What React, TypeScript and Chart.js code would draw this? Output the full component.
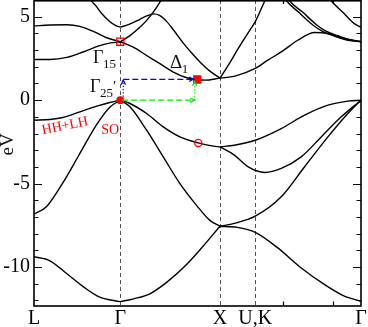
import React, { useEffect, useRef } from "react";
import { Chart, registerables } from "chart.js";
Chart.register(...registerables);

// High-symmetry points (k in units of 2π/a) and labels
const kPoints = [0, 0.866, 1.866, 2.22, 3.281];
const kLabels = ["L", "Γ", "X", "U,K", "Γ"];
const kMinorTicks = [2.5, 3.0];
const eMajorTicks = [-10, -5, 0, 5];
const eMinorTicks = [-12, -11, -10, -9, -8, -7, -6, -5, -4, -3, -2, -1, 0, 1, 2, 3, 4, 5];
const eMin = -12.33;
const eMax = 6;

// L -> Γ
const bandLG_a = [[0, -9.38], [0.16, -9.62], [0.33, -10.4], [0.5, -11.2], [0.66, -11.8], [0.866, -12.07]];
const bandLG_b = [[0, -6.83], [0.13, -6.35], [0.3, -4.85], [0.45, -3.3], [0.63, -1.45], [0.76, -0.42], [0.866, 0]];
const bandLG_c = [[0, -1.2], [0.16, -1.16], [0.29, -1.04], [0.46, -0.7], [0.63, -0.36], [0.76, -0.14], [0.866, 0]];
const bandLG_d = [[0, 2.44], [0.16, 2.44], [0.33, 2.56], [0.5, 2.9], [0.66, 3.27], [0.77, 3.43], [0.866, 3.5]];
const bandLG_e = [[0, 4.45], [0.16, 4.5], [0.33, 4.52], [0.46, 4.42], [0.6, 4.1], [0.73, 3.74], [0.866, 3.5]];
const bandLG_f = [[0.5, 6.7], [0.57, 6.0], [0.629, 5.59], [0.679, 5.19], [0.762, 4.7], [0.82, 4.47], [0.866, 4.37]];

// Γ -> X
const bandGX_a = [[0.866, -12.07], [1.0, -11.9], [1.163, -11.6], [1.334, -10.9], [1.505, -10.0], [1.672, -8.92], [1.866, -7.55]];
const bandGX_b = [[0.866, 0], [0.963, -0.4], [1.13, -1.8], [1.297, -3.4], [1.464, -5.0], [1.631, -6.3], [1.765, -7.2], [1.866, -7.55]];
const bandGX_c = [[0.866, 0], [0.963, -0.2], [1.13, -0.8], [1.297, -1.6], [1.464, -2.2], [1.648, -2.56], [1.799, -2.75], [1.866, -2.8]];
const bandGX_d = [[0.866, 3.5], [0.992, 3.19], [1.126, 2.69], [1.259, 2.2], [1.393, 1.7], [1.526, 1.36], [1.633, 1.24], [1.716, 1.2], [1.866, 1.32]];
const bandGX_e = [[0.866, 4.37], [0.959, 4.55], [1.059, 4.83], [1.126, 5.03], [1.2, 5.17], [1.26, 5.08], [1.33, 4.72], [1.4, 4.2], [1.5, 3.4], [1.6, 2.7], [1.665, 2.29], [1.765, 1.74], [1.866, 1.32]];
const bandGX_f = [[0.866, 3.5], [0.959, 3.85], [1.059, 4.35], [1.126, 4.75], [1.182, 5.15], [1.233, 5.59], [1.276, 6.0], [1.32, 6.4]];

// X -> U,K -> Γ
const bandXG_a = [[1.866, -7.55], [2.04, -7.62], [2.22, -7.92], [2.44, -8.82], [2.675, -10.02], [2.909, -11.02], [3.109, -11.72], [3.281, -12.05]];
const bandXG_b = [[1.866, -7.55], [2.01, -7.38], [2.22, -6.95], [2.481, -5.79], [2.715, -3.99], [2.949, -2.2], [3.149, -0.8], [3.281, 0]];
const bandXG_c = [[1.866, -2.8], [2.01, -3.29], [2.149, -4.0], [2.317, -4.33], [2.481, -4.09], [2.681, -3.4], [2.882, -2.2], [3.083, -1.0], [3.281, 0]];
const bandXG_d = [[1.866, -2.8], [2.01, -2.7], [2.22, -2.4], [2.481, -1.7], [2.715, -0.9], [2.949, -0.3], [3.149, -0.06], [3.281, 0]];
const bandXG_e = [[1.866, 1.32], [2.016, 1.44], [2.22, 1.9], [2.347, 2.4], [2.481, 2.89], [2.647, 3.59], [2.815, 4.05], [2.948, 3.99], [3.083, 3.75], [3.281, 3.5]];
const bandXG_f = [[1.866, 1.32], [1.95, 2.1], [2.05, 3.1], [2.15, 4.05], [2.22, 4.7], [2.32, 6.0], [2.38, 6.7]];
const bandXG_g = [[2.5, 6.3], [2.528, 6.0], [2.668, 5.2], [2.798, 4.5], [2.899, 4.1], [3.019, 3.83], [3.152, 3.59], [3.281, 3.5]];
const bandXG_h = [[2.53, 6.3], [2.558, 6.0], [2.698, 5.26], [2.828, 4.55], [2.929, 4.13], [3.049, 3.86], [3.17, 3.62], [3.281, 3.5]];
const bandXG_i = [[2.93, 6.4], [2.976, 6.0], [3.109, 5.2], [3.21, 4.6], [3.281, 4.37]];

const bands = [
  bandLG_a, bandLG_b, bandLG_c, bandLG_d, bandLG_e, bandLG_f,
  bandGX_a, bandGX_b, bandGX_c, bandGX_d, bandGX_e, bandGX_f,
  bandXG_a, bandXG_b, bandXG_c, bandXG_d, bandXG_e, bandXG_f, bandXG_g, bandXG_h, bandXG_i,
];

// Marked states
const gamma15Point = [0.866, 3.5];
const vbmPoint = [0.866, 0];
const cbmPoint = [1.638, 1.24];
const valencePoint = [1.648, -2.56];

// Transition arrows (from, to)
const greenHorizontal = [[0.885, 0], [1.612, 0]];
const greenVertical = [[1.612, 0], [1.612, 1.12]];
const blueVertical = [[0.896, 0.21], [0.896, 1.2]];
const blueHorizontal = [[0.896, 1.25], [1.6, 1.25]];

// Text annotation anchors (data coordinates)
const labelGamma15 = [0.592, 2.2];
const labelGamma25 = [0.562, 0.5];
const labelDelta1 = [1.364, 1.93];
const labelHHLH = [0.311, -1.55];
const labelSO = [0.765, -1.78];
const labelEV = -2.65;

const SERIF = '"Liberation Serif", "Times New Roman", serif';

function px(chart: any, p: number[]) {
  return [chart.scales.x.getPixelForValue(p[0]), chart.scales.y.getPixelForValue(p[1])];
}

function drawArrow(ctx: CanvasRenderingContext2D, a: number[], b: number[], color: string, dash: number[]) {
  ctx.save();
  ctx.strokeStyle = color;
  ctx.lineWidth = 1.2;
  ctx.setLineDash(dash);
  ctx.beginPath();
  ctx.moveTo(a[0], a[1]);
  ctx.lineTo(b[0], b[1]);
  ctx.stroke();
  ctx.setLineDash([]);
  const ang = Math.atan2(b[1] - a[1], b[0] - a[0]);
  const L = 5;
  ctx.beginPath();
  ctx.moveTo(b[0] - L * Math.cos(ang - 0.45), b[1] - L * Math.sin(ang - 0.45));
  ctx.lineTo(b[0], b[1]);
  ctx.lineTo(b[0] - L * Math.cos(ang + 0.45), b[1] - L * Math.sin(ang + 0.45));
  ctx.stroke();
  ctx.restore();
}

function drawSubLabel(ctx: CanvasRenderingContext2D, p: number[], main: string, sub: string, mainSize: number, subSize: number, prime = false) {
  ctx.save();
  ctx.fillStyle = "#111";
  ctx.textBaseline = "alphabetic";
  ctx.textAlign = "left";
  ctx.font = `${mainSize}px ${SERIF}`;
  ctx.fillText(main, p[0], p[1]);
  const w = ctx.measureText(main).width;
  ctx.font = `${subSize}px ${SERIF}`;
  ctx.fillText(sub, p[0] + w - 0.5, p[1] + 5);
  if (prime) {
    const ws = ctx.measureText(sub).width;
    ctx.font = `${subSize + 2}px ${SERIF}`;
    ctx.fillText("′", p[0] + w + ws - 0.5, p[1] - 1);
  }
  ctx.restore();
}

const decorPlugin = {
  id: "decor",
  beforeDatasetsDraw(chart: any) {
    const { ctx, chartArea: a, scales } = chart;
    ctx.save();
    ctx.strokeStyle = "#555";
    ctx.lineWidth = 1;
    ctx.setLineDash([4, 3]);
    kPoints.slice(1, -1).forEach((k) => {
      const x = Math.round(scales.x.getPixelForValue(k)) + 0.5;
      ctx.beginPath();
      ctx.moveTo(x, a.top);
      ctx.lineTo(x, a.bottom);
      ctx.stroke();
    });
    ctx.restore();
  },
  afterDatasetsDraw(chart: any) {
    const { ctx, chartArea: a, scales } = chart;
    // arrows
    drawArrow(ctx, px(chart, greenHorizontal[0]), px(chart, greenHorizontal[1]), "#00ee00", [6, 3]);
    drawArrow(ctx, px(chart, greenVertical[0]), px(chart, greenVertical[1]), "#00ee00", [1.2, 2]);
    drawArrow(ctx, px(chart, blueVertical[0]), px(chart, blueVertical[1]), "#0000ff", [1.2, 2]);
    drawArrow(ctx, px(chart, blueHorizontal[0]), px(chart, blueHorizontal[1]), "#0000ff", [6, 3]);

    // frame
    ctx.save();
    ctx.strokeStyle = "#000";
    ctx.lineWidth = 1.6;
    ctx.strokeRect(a.left, a.top + 0.8, a.right - a.left, a.bottom - a.top - 0.8);
    // inward ticks on y
    ctx.lineWidth = 1.2;
    eMinorTicks.forEach((e) => {
      const y = Math.round(scales.y.getPixelForValue(e)) + 0.5;
      const len = eMajorTicks.includes(e) ? 8 : 4.5;
      ctx.beginPath();
      ctx.moveTo(a.left, y);
      ctx.lineTo(a.left + len, y);
      ctx.moveTo(a.right, y);
      ctx.lineTo(a.right - len, y);
      ctx.stroke();
    });
    kMinorTicks.forEach((k) => {
      const x = Math.round(scales.x.getPixelForValue(k)) + 0.5;
      ctx.beginPath();
      ctx.moveTo(x, a.bottom);
      ctx.lineTo(x, a.bottom - 4.5);
      ctx.moveTo(x, a.top);
      ctx.lineTo(x, a.top + 4);
      ctx.stroke();
    });
    ctx.restore();

    // text labels
    drawSubLabel(ctx, px(chart, labelGamma15), "Γ", "15", 18, 13);
    drawSubLabel(ctx, px(chart, labelGamma25), "Γ", "25", 18, 13, true);
    drawSubLabel(ctx, px(chart, labelDelta1), "Δ", "1", 19, 13);

    ctx.save();
    ctx.fillStyle = "#ff0000";
    ctx.font = `14px ${SERIF}`;
    ctx.textAlign = "center";
    ctx.textBaseline = "middle";
    const hh = px(chart, labelHHLH);
    ctx.translate(hh[0], hh[1]);
    ctx.rotate(-0.2);
    ctx.fillText("HH+LH", 0, 0);
    ctx.restore();

    ctx.save();
    ctx.fillStyle = "#ff0000";
    ctx.font = `14px ${SERIF}`;
    ctx.textAlign = "center";
    ctx.textBaseline = "middle";
    const so = px(chart, labelSO);
    ctx.fillText("SO", so[0], so[1]);
    ctx.restore();

    ctx.save();
    ctx.fillStyle = "#111";
    ctx.font = `19px ${SERIF}`;
    ctx.textAlign = "center";
    ctx.textBaseline = "middle";
    ctx.translate(a.left - 26, scales.y.getPixelForValue(labelEV));
    ctx.rotate(-Math.PI / 2);
    ctx.fillText("eV", 0, 0);
    ctx.restore();
  },
};

export default function App() {
  const canvasRef = useRef<HTMLCanvasElement | null>(null);

  useEffect(() => {
    document.body.style.margin = "0";
    const canvas = canvasRef.current;
    if (!canvas) return;

    const markerDs = (p: number[], style: string, radius: number, filled: boolean) => ({
      data: [{ x: p[0], y: p[1] }],
      showLine: false,
      pointStyle: style,
      pointRadius: radius,
      pointBorderColor: "#ff0000",
      pointBackgroundColor: filled ? "#ff0000" : "rgba(0,0,0,0)",
      pointBorderWidth: 1.3,
    });

    const datasets: any[] = [
      markerDs(gamma15Point, "rect", 5, false),
      markerDs(vbmPoint, "circle", 3.3, true),
      markerDs(cbmPoint, "rect", 5, true),
      markerDs(valencePoint, "circle", 3.6, false),
      ...bands.map((b) => ({
        data: b.map(([k, e]) => ({ x: k, y: e })),
        borderColor: "#000",
        borderWidth: 1.4,
        pointRadius: 0,
        tension: 0.4,
        cubicInterpolationMode: "monotone",
        fill: false,
      })),
    ];

    const chart = new Chart(canvas, {
      type: "line",
      data: { datasets },
      options: {
        animation: false,
        responsive: false,
        events: [],
        layout: { autoPadding: false, padding: { left: 0, right: 7, top: 0, bottom: 0 } },
        plugins: { legend: { display: false }, tooltip: { enabled: false } },
        scales: {
          x: {
            type: "linear",
            min: kPoints[0],
            max: kPoints[kPoints.length - 1],
            grid: { display: false, drawTicks: false },
            border: { display: false },
            afterBuildTicks: (scale: any) => {
              scale.ticks = kPoints.map((v) => ({ value: v }));
            },
            afterFit: (scale: any) => {
              scale.height = 21;
              scale.paddingLeft = 0;
              scale.paddingRight = 0;
            },
            ticks: {
              autoSkip: false,
              maxRotation: 0,
              padding: 1,
              color: "#000",
              font: { family: SERIF, size: 20 },
              callback: (_v: any, i: number) => kLabels[i],
            },
          },
          y: {
            type: "linear",
            min: eMin,
            max: eMax,
            grid: { display: false, drawTicks: false },
            border: { display: false },
            afterBuildTicks: (scale: any) => {
              scale.ticks = eMajorTicks.map((v) => ({ value: v }));
            },
            afterFit: (scale: any) => {
              scale.width = 34;
              scale.paddingTop = 0;
              scale.paddingBottom = 0;
            },
            ticks: {
              padding: 4,
              color: "#000",
              font: { family: SERIF, size: 20 },
              callback: (v: any) => String(v),
            },
          },
        },
      },
      plugins: [decorPlugin],
    } as any);

    return () => chart.destroy();
  }, []);

  return (
    <div style={{ width: 368, height: 327 }}>
      <canvas ref={canvasRef} width={368} height={327} style={{ display: "block" }} />
    </div>
  );
}
